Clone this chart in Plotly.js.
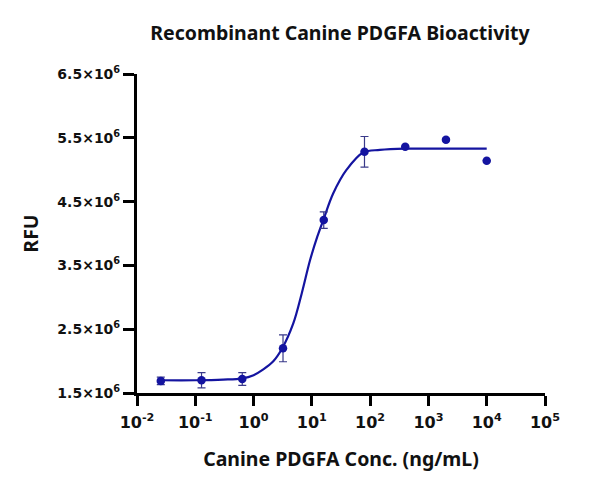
<!DOCTYPE html>
<html>
<head>
<meta charset="utf-8">
<script src="https://cdn.plot.ly/plotly-3.0.1.min.js"></script>
<style>html,body{margin:0;padding:0;background:#fff;}#chart{width:600px;height:488px;}</style>
</head>
<body>
<div id="chart"></div>
<script>
// Measured points (concentration in ng/mL, RFU)
const conc = [0.0256, 0.128, 0.64, 3.2, 16, 80, 400, 2000, 10000];
const rfu = [1.69e6, 1.70e6, 1.72e6, 2.20e6, 4.21e6, 5.28e6, 5.36e6, 5.47e6, 5.14e6];
const rfuErr = [0.06e6, 0.12e6, 0.10e6, 0.21e6, 0.13e6, 0.24e6, 0, 0, 0];

// Fitted curve
const fitX = [0.0256, 0.1, 0.3, 0.64, 1.0, 1.47, 2.2, 3.1, 4.8, 6.7, 9.3, 12.4, 15.7, 23.3, 39.5, 76, 147, 400, 2000, 10000];
const fitY = [1.70e6, 1.70e6, 1.71e6, 1.73e6, 1.78e6, 1.87e6, 2.00e6, 2.20e6, 2.59e6, 3.06e6, 3.58e6, 3.95e6, 4.21e6, 4.63e6, 5.00e6, 5.27e6, 5.31e6, 5.33e6, 5.33e6, 5.33e6];

// Axis ticks
const xTickVals = [0.01, 0.1, 1, 10, 100, 1000, 10000, 100000];
const xTickText = ['<b>10<sup>-2</sup></b>', '<b>10<sup>-1</sup></b>', '<b>10<sup>0</sup></b>', '<b>10<sup>1</sup></b>', '<b>10<sup>2</sup></b>', '<b>10<sup>3</sup></b>', '<b>10<sup>4</sup></b>', '<b>10<sup>5</sup></b>'];
const yTickVals = [1.5e6, 2.5e6, 3.5e6, 4.5e6, 5.5e6, 6.5e6];
const yTickText = ['<b>1.5×10<sup>6</sup></b>', '<b>2.5×10<sup>6</sup></b>', '<b>3.5×10<sup>6</sup></b>', '<b>4.5×10<sup>6</sup></b>', '<b>5.5×10<sup>6</sup></b>', '<b>6.5×10<sup>6</sup></b>'];

const blue = '#1414a0';
const titleFont = {family: 'Noto Sans, Open Sans, sans-serif', size: 19.5, color: '#111'};

const traces = [
  {
    x: fitX, y: fitY, type: 'scatter', mode: 'lines',
    line: {color: blue, width: 2.2, shape: 'spline', smoothing: 1},
    hoverinfo: 'skip'
  },
  {
    x: conc, y: rfu, type: 'scatter', mode: 'markers',
    marker: {color: blue, size: 8.5},
    error_y: {type: 'data', array: rfuErr, visible: true, color: '#3a3a8a', thickness: 1.2, width: 4}
  }
];

const layout = {
  width: 600, height: 488,
  margin: {l: 137, r: 55, t: 74, b: 95},
  paper_bgcolor: '#fff', plot_bgcolor: '#fff',
  showlegend: false,
  title: {
    text: '<b>Recombinant Canine PDGFA Bioactivity</b>',
    font: titleFont,
    x: 340 / 600, xanchor: 'center', xref: 'container',
    y: 1 - 33 / 488, yanchor: 'middle', yref: 'container'
  },
  xaxis: {
    type: 'log',
    range: [-2, 5],
    tickvals: xTickVals, ticktext: xTickText,
    tickfont: {family: 'DejaVu Sans, Verdana, sans-serif', size: 16, color: '#111'},
    ticks: 'outside', ticklen: 10, tickwidth: 3, tickcolor: '#000',
    ticklabelstandoff: 3,
    showline: true, linecolor: '#000', linewidth: 3,
    showgrid: false, zeroline: false,
    title: {text: '<b>Canine PDGFA Conc. (ng/mL)</b>', font: titleFont, standoff: 22}
  },
  yaxis: {
    range: [1.5e6, 6.5e6],
    tickvals: yTickVals, ticktext: yTickText,
    tickfont: {family: 'DejaVu Sans, Verdana, sans-serif', size: 14, color: '#111'},
    ticks: 'outside', ticklen: 11, tickwidth: 3, tickcolor: '#000',
    showline: true, linecolor: '#000', linewidth: 3,
    showgrid: false, zeroline: false,
    title: {text: '<b>RFU</b>', font: titleFont, standoff: 14}
  }
};

Plotly.newPlot('chart', traces, layout, {displayModeBar: false, staticPlot: true});
</script>
</body>
</html>
